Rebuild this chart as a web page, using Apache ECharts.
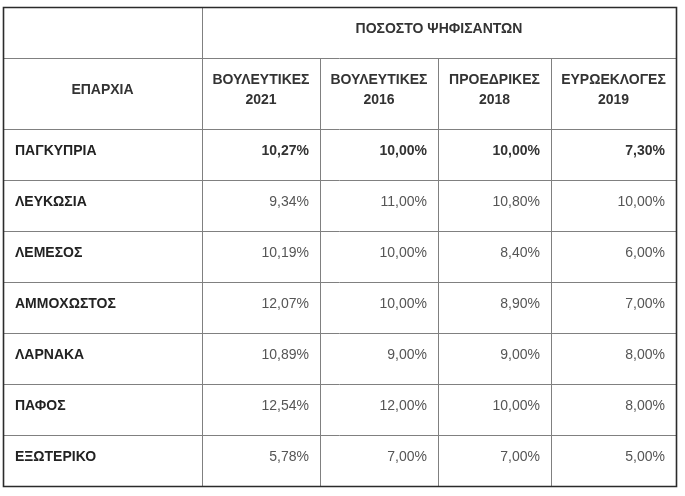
<!DOCTYPE html>
<html>
<head>
<meta charset="utf-8">
<style>html,body{margin:0;padding:0;background:#fff;}#c{width:685px;height:496px;}</style>
<script src="https://cdn.jsdelivr.net/npm/echarts@6/dist/echarts.min.js"></script>
</head>
<body>
<div id="c"></div>
<script>
var groupTitle = 'ΠΟΣΟΣΤΟ ΨΗΦΙΣΑΝΤΩΝ';
var rowHeader = 'ΕΠΑΡΧΙΑ';
var columns = ['ΒΟΥΛΕΥΤΙΚΕΣ\n2021', 'ΒΟΥΛΕΥΤΙΚΕΣ\n2016', 'ΠΡΟΕΔΡΙΚΕΣ\n2018', 'ΕΥΡΩΕΚΛΟΓΕΣ\n2019'];
var regions = ['ΠΑΓΚΥΠΡΙΑ', 'ΛΕΥΚΩΣΙΑ', 'ΛΕΜΕΣΟΣ', 'ΑΜΜΟΧΩΣΤΟΣ', 'ΛΑΡΝΑΚΑ', 'ΠΑΦΟΣ', 'ΕΞΩΤΕΡΙΚΟ'];
var vouleftikes2021 = [10.27, 9.34, 10.19, 12.07, 10.89, 12.54, 5.78];
var vouleftikes2016 = [10.00, 11.00, 10.00, 10.00, 9.00, 12.00, 7.00];
var proedrikes2018 = [10.00, 10.80, 8.40, 8.90, 9.00, 10.00, 7.00];
var evroekloges2019 = [7.30, 10.00, 6.00, 7.00, 8.00, 8.00, 5.00];
var seriesValues = [vouleftikes2021, vouleftikes2016, proedrikes2018, evroekloges2019];

// layout
var colEdges = [3, 202, 320, 438, 551, 676];
var rowEdges = [7, 58, 129, 180, 231, 282, 333, 384, 435, 486];
var font = '"Liberation Sans", Arial, sans-serif';
var fs = 14;
var textShift = -3.5;

function fmt(v) { return v.toFixed(2).replace('.', ',') + '%'; }

var els = [];
var lineColor = '#808080';
for (var r = 1; r < rowEdges.length - 1; r++) {
  els.push({type: 'line', shape: {x1: colEdges[0], y1: rowEdges[r] + 0.5, x2: colEdges[5], y2: rowEdges[r] + 0.5}, style: {stroke: lineColor, lineWidth: 1}});
}
els.push({type: 'line', shape: {x1: colEdges[1] + 0.5, y1: rowEdges[0], x2: colEdges[1] + 0.5, y2: rowEdges[rowEdges.length - 1]}, style: {stroke: lineColor, lineWidth: 1}});
for (var c = 2; c < colEdges.length - 1; c++) {
  els.push({type: 'line', shape: {x1: colEdges[c] + 0.5, y1: rowEdges[1], x2: colEdges[c] + 0.5, y2: rowEdges[rowEdges.length - 1]}, style: {stroke: lineColor, lineWidth: 1}});
}
els.push({type: 'rect', shape: {x: colEdges[0] + 0.5, y: rowEdges[0] + 0.5, width: colEdges[5] - colEdges[0], height: rowEdges[rowEdges.length - 1] - rowEdges[0]}, style: {fill: null, stroke: '#2b2b2b', lineWidth: 1.6}});

function txt(s, x, y, align, bold, color) {
  els.push({type: 'text', x: x, y: y, style: {text: s, font: (bold ? 'bold ' : '') + fs + 'px ' + font, fill: color, align: align, verticalAlign: 'middle', lineHeight: 20}});
}
txt(groupTitle, (colEdges[1] + colEdges[5]) / 2, (rowEdges[0] + rowEdges[1]) / 2 + textShift, 'center', true, '#333');
txt(rowHeader, (colEdges[0] + colEdges[1]) / 2, (rowEdges[1] + rowEdges[2]) / 2 + textShift, 'center', true, '#333');
for (var i = 0; i < columns.length; i++) {
  txt(columns[i], (colEdges[i + 1] + colEdges[i + 2]) / 2, (rowEdges[1] + rowEdges[2]) / 2 + textShift, 'center', true, '#333');
}
for (var r = 0; r < regions.length; r++) {
  var cy = (rowEdges[r + 2] + rowEdges[r + 3]) / 2 + textShift;
  txt(regions[r], colEdges[0] + 12, cy, 'left', true, '#222');
  for (var i = 0; i < seriesValues.length; i++) {
    txt(fmt(seriesValues[i][r]), colEdges[i + 2] - 11, cy, 'right', r === 0, r === 0 ? '#333' : '#555');
  }
}

var chart = echarts.init(document.getElementById('c'));
chart.setOption({backgroundColor: '#fff', animation: false, graphic: {elements: els}});
</script>
</body>
</html>
